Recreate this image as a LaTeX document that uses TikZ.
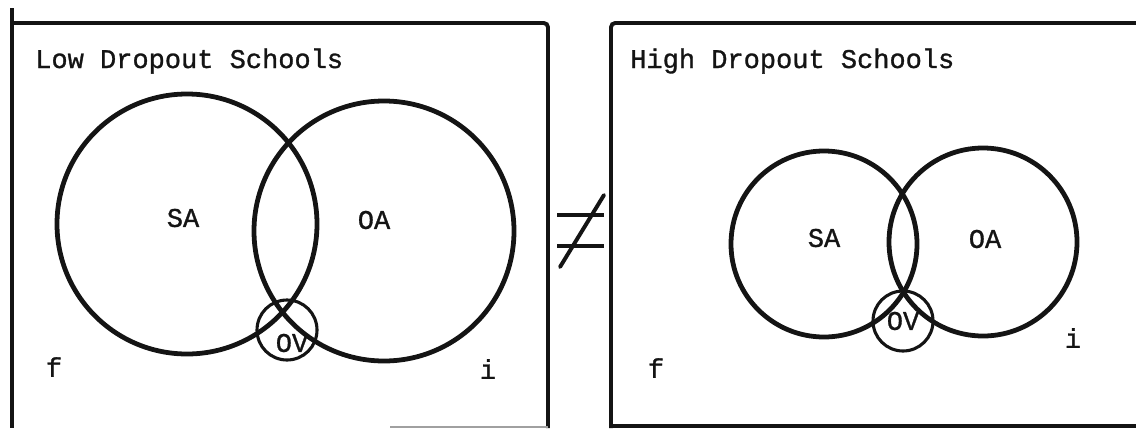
\documentclass[tikz,border=0pt]{standalone}
\usepackage{fontspec}
\newfontfamily\typefont[FakeBold=1.1]{Liberation Mono}
\usepackage{xcolor}
\usepackage{tikz}
\definecolor{ScanInk}{HTML}{141414}
\definecolor{ScanGrey}{HTML}{A0A0A0}
\tikzset{
  frame/.style={ScanInk,line width=2.8pt},
  setring/.style={ScanInk,line width=3.4pt},
  ovring/.style={ScanInk,line width=2.2pt},
  tlabel/.style={inner sep=0pt,text=ScanInk,font=\typefont\fontsize{19.2}{22}\selectfont},
}

\begin{document}
\begin{tikzpicture}[x=0.025cm,y=-0.025cm]
\path[use as bounding box] (0,0) rectangle (1136,428);
% low dropout panel
\draw[frame] (12,8) -- (12,428);
\draw[frame,rounded corners=3pt] (12,23) -- (548,23) -- (548,428);
\draw[ScanGrey,line width=0.8pt] (390,427) -- (548,427);
\node[tlabel,anchor=base west] (lowtitle) at (35,68) {Low Dropout Schools};
\draw[setring] (187,224) circle[radius=130];
\draw[setring] (384,231) circle[radius=130];
\draw[ovring] (287,330) circle[radius=30];
\node[tlabel] (lowsa) at (183,218) {SA};
\node[tlabel] (lowoa) at (374,220) {OA};
\node[tlabel] (lowov) at (292,343) {OV};
\node[tlabel] (lowf) at (54,367) {f};
\node[tlabel] (lowi) at (488,369) {i};
% not-equal sign
\draw[frame] (557,215) -- (604,215);
\draw[frame] (557,246) -- (604,246);
\draw[frame,line cap=round] (560,267) -- (604,195);
% high dropout panel
\draw[frame,rounded corners=3pt] (611,428) -- (611,23) -- (1136,23);
\draw[frame] (611,426) -- (1136,426);
\node[tlabel,anchor=base west] (hightitle) at (630,68) {High Dropout Schools};
\draw[setring] (824,244) circle[radius=93];
\draw[setring] (983,242) circle[radius=94];
\draw[ovring] (903,321) circle[radius=30];
\node[tlabel] (highsa) at (824,238) {SA};
\node[tlabel] (highoa) at (985,239) {OA};
\node[tlabel] (highov) at (903,321) {OV};
\node[tlabel] (highf) at (656,368) {f};
\node[tlabel] (highi) at (1073,338) {i};
\end{tikzpicture}
\end{document}
